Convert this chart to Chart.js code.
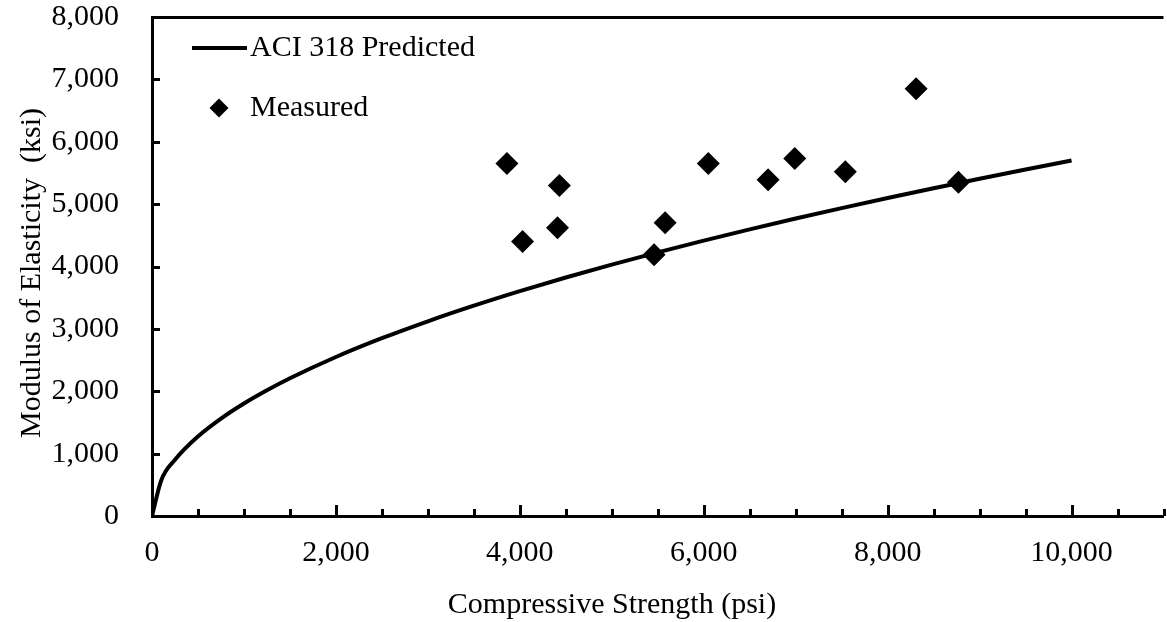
<!DOCTYPE html>
<html>
<head>
<meta charset="utf-8">
<script src="https://cdn.jsdelivr.net/npm/chart.js@4.4.0/dist/chart.umd.min.js"></script>
<style>
html,body{margin:0;padding:0;overflow:hidden;background:#fff;width:1167px;height:622px}
canvas{display:block}
</style>
</head>
<body>
<canvas id="c" width="1175" height="622"></canvas>
<script>
// ---- Data ----
const strengthPsi      = [0, 100, 250, 500, 750, 1000, 1250, 1500, 2000, 2500, 3000, 3500, 4000, 4500, 5000, 5500, 6000, 6500, 7000, 7500, 8000, 8500, 9000, 9500, 10000];
const aciPredictedKsi  = [0, 570, 901, 1275, 1561, 1803, 2015, 2208, 2549, 2850, 3122, 3372, 3605, 3824, 4031, 4227, 4415, 4595, 4769, 4936, 5098, 5255, 5408, 5556, 5700];
const measuredStrengthPsi = [3860, 4030, 4410, 4430, 5460, 5580, 6050, 6700, 6990, 7540, 8310, 8770];
const measuredModulusKsi  = [5650, 4400, 4620, 5300, 4190, 4700, 5650, 5390, 5730, 5520, 6850, 5350];
const xTickValues = [0, 2000, 4000, 6000, 8000, 10000];
const yTickValues = [0, 1000, 2000, 3000, 4000, 5000, 6000, 7000, 8000];
const seriesNames = ['ACI 318 Predicted', 'Measured'];
const xTitle = 'Compressive Strength (psi)';
const yTitle = 'Modulus of Elasticity  (ksi)';

// ---- Styling ----
const FAMILY = '"Liberation Serif", "Times New Roman", serif';
const FONT_SIZE = 30;
const fmt = v => Number(v).toLocaleString('en-US');

const decorations = {
  id: 'decorations',
  afterDraw(chart) {
    const ctx = chart.ctx;
    const a = chart.chartArea;
    const xs = chart.scales.x, ys = chart.scales.y;
    ctx.save();
    ctx.strokeStyle = '#000';
    ctx.fillStyle = '#000';
    // top border
    ctx.lineWidth = 3;
    ctx.beginPath();
    ctx.moveTo(a.left, a.top + 0.5);
    ctx.lineTo(a.right, a.top + 0.5);
    ctx.stroke();
    // inside tick marks, x (major 2000, minor 500)
    ctx.lineWidth = 3;
    for (let v = xs.min; v <= xs.max; v += 500) {
      const px = Math.round(xs.getPixelForValue(v)) + 0.5;
      const len = (v % 2000 === 0) ? 11 : 7;
      ctx.beginPath();
      ctx.moveTo(px, a.bottom);
      ctx.lineTo(px, a.bottom - len);
      ctx.stroke();
    }
    // inside tick marks, y
    yTickValues.forEach(v => {
      const py = Math.round(ys.getPixelForValue(v)) + 0.5;
      ctx.beginPath();
      ctx.moveTo(a.left, py);
      ctx.lineTo(a.left + 8, py);
      ctx.stroke();
    });
    // legend
    ctx.font = FONT_SIZE + 'px ' + FAMILY;
    ctx.textBaseline = 'middle';
    ctx.textAlign = 'left';
    const lx = a.left + 40, ly1 = a.top + 31, ly2 = a.top + 91;
    ctx.lineWidth = 4;
    ctx.beginPath();
    ctx.moveTo(lx, ly1);
    ctx.lineTo(lx + 55, ly1);
    ctx.stroke();
    ctx.fillText(chart.data.datasets[0].label, lx + 58, ly1);
    const dx = lx + 27, r = 9.5;
    ctx.beginPath();
    ctx.moveTo(dx, ly2 - r);
    ctx.lineTo(dx + r, ly2);
    ctx.lineTo(dx, ly2 + r);
    ctx.lineTo(dx - r, ly2);
    ctx.closePath();
    ctx.fill();
    ctx.fillText(chart.data.datasets[1].label, lx + 58, ly2);
    // axis titles
    ctx.textAlign = 'center';
    ctx.textBaseline = 'alphabetic';
    ctx.fillText(xTitle, 612, 613);
    ctx.translate(40, 273);
    ctx.rotate(-Math.PI / 2);
    ctx.fillText(yTitle, 0, 0);
    ctx.restore();
  }
};

new Chart(document.getElementById('c'), {
  type: 'scatter',
  data: {
    datasets: [
      {
        label: seriesNames[0],
        data: strengthPsi.map((x, i) => ({ x, y: aciPredictedKsi[i] })),
        showLine: true,
        borderColor: '#000',
        borderWidth: 4,
        pointRadius: 0,
        cubicInterpolationMode: 'monotone',
        order: 2
      },
      {
        label: seriesNames[1],
        data: measuredStrengthPsi.map((x, i) => ({ x, y: measuredModulusKsi[i] })),
        pointStyle: 'rectRot',
        pointRadius: 11.5,
        backgroundColor: '#000',
        borderColor: '#000',
        borderWidth: 0,
        order: 1
      }
    ]
  },
  options: {
    responsive: false,
    animation: false,
    events: [],
    layout: { padding: { top: 17, left: 0, right: 2, bottom: 0 } },
    plugins: { legend: { display: false }, tooltip: { enabled: false } },
    scales: {
      x: {
        type: 'linear',
        min: 0,
        max: 11000,
        afterBuildTicks: s => { s.ticks = xTickValues.map(v => ({ value: v })); },
        afterFit: s => { s.height = 106; s.paddingLeft = 0; s.paddingRight = 0; },
        ticks: {
          color: '#000',
          padding: 19,
          maxRotation: 0,
          autoSkip: false,
          font: { family: FAMILY, size: FONT_SIZE },
          callback: v => fmt(v)
        },
        grid: { display: true, drawOnChartArea: false, drawTicks: false },
        border: { display: true, color: '#000', width: 3 }
      },
      y: {
        type: 'linear',
        min: 0,
        max: 8000,
        afterBuildTicks: s => { s.ticks = yTickValues.map(v => ({ value: v })); },
        afterFit: s => { s.width = 152; s.paddingTop = 0; s.paddingBottom = 0; },
        ticks: {
          color: '#000',
          padding: 33,
          autoSkip: false,
          font: { family: FAMILY, size: FONT_SIZE },
          callback: v => fmt(v)
        },
        grid: { display: true, drawOnChartArea: false, drawTicks: false },
        border: { display: true, color: '#000', width: 3 }
      }
    }
  },
  plugins: [decorations]
});
</script>
</body>
</html>
